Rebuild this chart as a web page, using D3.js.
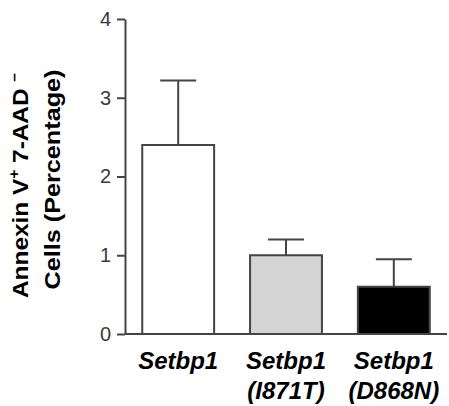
<!DOCTYPE html>
<html>
<head>
<meta charset="utf-8">
<script src="https://cdn.jsdelivr.net/npm/d3@7"></script>
<style>
  body { margin: 0; background: #fff; }
  text { font-family: "Liberation Sans", Arial, sans-serif; }
</style>
</head>
<body>
<div id="chart"></div>
<script>
var groups = ["Setbp1", "Setbp1 (I871T)", "Setbp1 (D868N)"];
var labelLine1 = ["Setbp1", "Setbp1", "Setbp1"];
var labelLine2 = ["", "(I871T)", "(D868N)"];
var means = [2.4, 1.0, 0.6];
var errors = [0.82, 0.2, 0.35];
var fills = ["#ffffff", "#d4d4d4", "#000000"];
var yTicks = [0, 1, 2, 3, 4];

var margin = {top: 19, right: 2, bottom: 72, left: 125};
var width = 449 - margin.left - margin.right;
var height = 406 - margin.top - margin.bottom;

var svg = d3.select("#chart").append("svg")
    .attr("width", 449)
    .attr("height", 406)
    .append("g")
    .attr("transform", "translate(" + margin.left + "," + margin.top + ")");

var x = d3.scaleBand()
    .domain(groups)
    .range([0, width])
    .paddingInner(1 / 3)
    .paddingOuter(0.16);

var y = d3.scaleLinear()
    .domain([0, 4])
    .range([315, 0]);

// bars
svg.selectAll(".bar")
    .data(groups)
    .enter().append("rect")
    .attr("class", "bar")
    .attr("x", d => x(d))
    .attr("y", (d, i) => y(means[i]))
    .attr("width", x.bandwidth())
    .attr("height", (d, i) => y(0) - y(means[i]))
    .attr("fill", (d, i) => fills[i])
    .attr("stroke", "#444")
    .attr("stroke-width", 2);

// error bars (upper only)
var capW = x.bandwidth() / 2;
var err = svg.selectAll(".err")
    .data(groups)
    .enter().append("g")
    .attr("class", "err")
    .attr("stroke", "#444")
    .attr("stroke-width", 2);

err.append("line")
    .attr("x1", d => x(d) + x.bandwidth() / 2)
    .attr("x2", d => x(d) + x.bandwidth() / 2)
    .attr("y1", (d, i) => y(means[i]))
    .attr("y2", (d, i) => y(means[i] + errors[i]));

err.append("line")
    .attr("x1", d => x(d) + x.bandwidth() / 2 - capW / 2)
    .attr("x2", d => x(d) + x.bandwidth() / 2 + capW / 2)
    .attr("y1", (d, i) => y(means[i] + errors[i]))
    .attr("y2", (d, i) => y(means[i] + errors[i]));

// y axis
var yAxis = svg.append("g")
    .call(d3.axisLeft(y).tickValues(yTicks).tickFormat(d3.format("d")).tickSize(8).tickSizeOuter(0).tickPadding(6));
yAxis.select(".domain").attr("stroke", "#444").attr("stroke-width", 2);
yAxis.selectAll(".tick line").attr("stroke", "#444").attr("stroke-width", 2);
yAxis.selectAll(".tick text")
    .attr("fill", "#3a3a3a")
    .style("font-size", "20px")
    .style("font-family", "Liberation Sans, Arial, sans-serif");

// x axis line
svg.append("line")
    .attr("x1", 0)
    .attr("x2", width)
    .attr("y1", y(0))
    .attr("y2", y(0))
    .attr("stroke", "#444")
    .attr("stroke-width", 2);

// x labels
var xl = svg.selectAll(".xlabel")
    .data(groups)
    .enter().append("text")
    .attr("class", "xlabel")
    .attr("text-anchor", "middle")
    .style("font-size", "24px")
    .style("font-weight", "bold")
    .style("font-style", "italic")
    .attr("fill", "#000");

xl.append("tspan")
    .attr("x", d => x(d) + x.bandwidth() / 2)
    .attr("y", y(0) + 35)
    .text((d, i) => labelLine1[i]);

xl.append("tspan")
    .attr("x", d => x(d) + x.bandwidth() / 2)
    .attr("y", y(0) + 65)
    .text((d, i) => labelLine2[i]);

// y label
var yl = svg.append("text")
    .attr("transform", "translate(" + (-97) + "," + (y(2) + 9) + ") rotate(-90)")
    .attr("text-anchor", "middle")
    .attr("textLength", 225)
    .attr("lengthAdjust", "spacingAndGlyphs")
    .style("font-size", "22px")
    .style("font-weight", "bold")
    .attr("fill", "#000");

yl.append("tspan").text("Annexin V");
yl.append("tspan").attr("dy", -9).style("font-size", "14px").text("+");
yl.append("tspan").attr("dy", 9).text(" 7-AAD ");
yl.append("tspan").attr("dy", -9).style("font-size", "14px").text("\u2013");

svg.append("text")
    .attr("transform", "translate(" + (-65) + "," + (y(2) + 3) + ") rotate(-90)")
    .attr("text-anchor", "middle")
    .attr("textLength", 220)
    .attr("lengthAdjust", "spacingAndGlyphs")
    .style("font-size", "22px")
    .style("font-weight", "bold")
    .attr("fill", "#000")
    .text("Cells (Percentage)");
</script>
</body>
</html>
